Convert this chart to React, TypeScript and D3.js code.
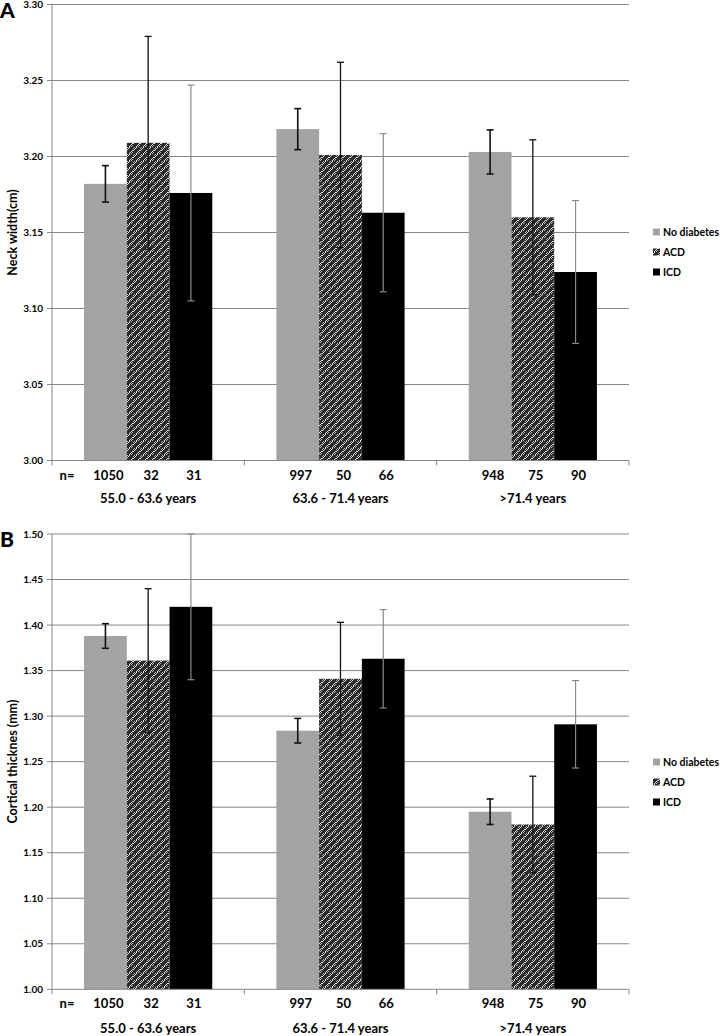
import React from "react";
import * as d3 from "d3";

const groups = ["55.0 - 63.6 years", "63.6 - 71.4 years", ">71.4 years"];
const series = ["No diabetes", "ACD", "ICD"];
const nCounts = [
  [1050, 32, 31],
  [997, 50, 66],
  [948, 75, 90],
];

const neckNoDiab = [3.182, 3.218, 3.203];
const neckACD = [3.209, 3.201, 3.16];
const neckICD = [3.176, 3.163, 3.124];
const neckErrNoDiab = [0.012, 0.0135, 0.0145];
const neckErrACD = [0.07, 0.061, 0.051];
const neckErrICD = [0.071, 0.052, 0.047];
const neckTicks = [3.0, 3.05, 3.1, 3.15, 3.2, 3.25, 3.3];

const cortNoDiab = [1.388, 1.284, 1.195];
const cortACD = [1.361, 1.341, 1.181];
const cortICD = [1.42, 1.363, 1.291];
const cortErrNoDiab = [0.0135, 0.0135, 0.014];
const cortErrACD = [0.079, 0.062, 0.053];
const cortErrICD = [0.08, 0.054, 0.048];
const cortTicks = [1.0, 1.05, 1.1, 1.15, 1.2, 1.25, 1.3, 1.35, 1.4, 1.45, 1.5];

const FONT = "Lato, 'Open Sans', sans-serif";
const GRID = "#868686";
const fills = ["#a3a3a3", "url(#acdHatch)", "#000000"];
const errColors = ["#111", "#111", "#8a8a8a"];
const errWidths = [1.6, 1.3, 1.2];

type PanelProps = {
  letter: string;
  title: string;
  top: number;
  bottom: number;
  domain: [number, number];
  ticks: number[];
  means: number[][];
  errs: number[][];
  nRowY: number;
  catRowY: number;
  legendY: number;
};

function Panel(p: PanelProps) {
  const x0 = d3.scaleBand<string>().domain(groups).range([52, 629]).padding(0);
  const step = x0.bandwidth();
  const x1 = d3
    .scaleBand<string>()
    .domain(series)
    .range([step / 6, (step * 5) / 6])
    .padding(0);
  const y = d3.scaleLinear().domain(p.domain).range([p.bottom, p.top]);
  const fmt = d3.format(".2f");
  const bw = x1.bandwidth();

  return (
    <g>
      <text x={0} y={p.top + 13} fontFamily={FONT} fontWeight={900} fontSize={21}>
        {p.letter}
      </text>
      {p.ticks.map((t) => (
        <g key={t}>
          {t !== p.domain[0] && (
            <line x1={52} x2={629} y1={y(t)} y2={y(t)} stroke={GRID} strokeWidth={1} />
          )}
          <line x1={47} x2={52} y1={y(t)} y2={y(t)} stroke={GRID} strokeWidth={1} />
          <text
            x={43}
            y={y(t)}
            dy="0.35em"
            textAnchor="end"
            fontFamily={FONT}
            fontWeight={700}
            fontSize={10}
          >
            {fmt(t)}
          </text>
        </g>
      ))}
      <text
        transform={`translate(17,${(p.top + p.bottom) / 2}) rotate(-90)`}
        textAnchor="middle"
        fontFamily={FONT}
        fontWeight={700}
        fontSize={12.5}
      >
        {p.title}
      </text>
      {groups.map((g, gi) =>
        series.map((s, si) => {
          const v = p.means[si][gi];
          const bx = (x0(g) as number) + (x1(s) as number);
          return (
            <rect
              key={g + s}
              x={bx}
              y={y(v)}
              width={bw}
              height={y(p.domain[0]) - y(v)}
              fill={fills[si]}
            />
          );
        })
      )}
      {groups.map((g, gi) =>
        series.map((s, si) => {
          const v = p.means[si][gi];
          const e = p.errs[si][gi];
          const cx = (x0(g) as number) + (x1(s) as number) + bw / 2;
          const yt = y(Math.min(v + e, p.domain[1]));
          const yb = y(v - e);
          return (
            <g key={"e" + g + s} stroke={errColors[si]} strokeWidth={errWidths[si]}>
              <line x1={cx} x2={cx} y1={yt} y2={yb} />
              <line x1={cx - 3.5} x2={cx + 3.5} y1={yt} y2={yt} />
              <line x1={cx - 3.5} x2={cx + 3.5} y1={yb} y2={yb} />
            </g>
          );
        })
      )}
      <line x1={52} x2={52} y1={p.top} y2={p.bottom} stroke={GRID} strokeWidth={1} />
      <line x1={52} x2={629} y1={p.bottom} y2={p.bottom} stroke={GRID} strokeWidth={1} />
      {[...groups.map((g) => x0(g) as number), 629].map((tx, i) => (
        <line key={i} x1={tx} x2={tx} y1={p.bottom} y2={p.bottom + 5} stroke={GRID} strokeWidth={1} />
      ))}
      <text x={67} y={p.nRowY} dy="0.35em" textAnchor="middle" fontFamily={FONT} fontWeight={700} fontSize={13}>
        n=
      </text>
      {groups.map((g, gi) =>
        series.map((s, si) => (
          <text
            key={"n" + g + s}
            x={(x0(g) as number) + (x1(s) as number) + bw / 2 + 3}
            y={p.nRowY}
            dy="0.35em"
            textAnchor="middle"
            fontFamily={FONT}
            fontWeight={700}
            fontSize={13}
          >
            {nCounts[gi][si]}
          </text>
        ))
      )}
      {groups.map((g) => (
        <text
          key={"c" + g}
          x={(x0(g) as number) + step / 2}
          y={p.catRowY}
          dy="0.35em"
          textAnchor="middle"
          fontFamily={FONT}
          fontWeight={700}
          fontSize={13}
        >
          {g}
        </text>
      ))}
      {series.map((s, si) => (
        <g key={"l" + s}>
          <rect x={653} y={p.legendY + si * 20 - 3.5} width={7} height={7} fill={fills[si]} />
          <text
            x={663}
            y={p.legendY + si * 20}
            dy="0.35em"
            fontFamily={FONT}
            fontWeight={700}
            fontSize={10.5}
          >
            {s}
          </text>
        </g>
      ))}
    </g>
  );
}

export default function App() {
  return (
    <svg
      width={723}
      height={1036}
      style={{ position: "absolute", left: 0, top: 0, background: "#fff" }}
    >
      <defs>
        <pattern id="chk" width={2} height={2} patternUnits="userSpaceOnUse">
          <rect width={2} height={2} fill="#e6e6e6" />
          <rect x={0} y={0} width={1} height={1} fill="#222" />
          <rect x={1} y={1} width={1} height={1} fill="#222" />
        </pattern>
        <pattern id="acdHatch" width={7} height={7} patternUnits="userSpaceOnUse">
          <rect width={7} height={7} fill="url(#chk)" />
          <path d="M-1,8 L8,-1 M-2,2 L2,-2 M5,9 L9,5" stroke="#2a2a2a" strokeWidth={2.4} />
        </pattern>
      </defs>
      <Panel
        letter="A"
        title="Neck width(cm)"
        top={4.5}
        bottom={460.5}
        domain={[3.0, 3.3]}
        ticks={neckTicks}
        means={[neckNoDiab, neckACD, neckICD]}
        errs={[neckErrNoDiab, neckErrACD, neckErrICD]}
        nRowY={475}
        catRowY={498}
        legendY={232}
      />
      <Panel
        letter="B"
        title="Cortical thicknes (mm)"
        top={534}
        bottom={989.3}
        domain={[1.0, 1.5]}
        ticks={cortTicks}
        means={[cortNoDiab, cortACD, cortICD]}
        errs={[cortErrNoDiab, cortErrACD, cortErrICD]}
        nRowY={1003}
        catRowY={1028}
        legendY={762}
      />
    </svg>
  );
}
